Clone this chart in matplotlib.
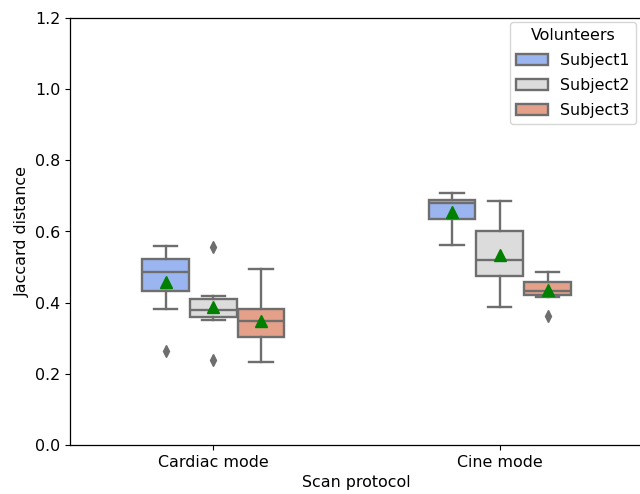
import colorsys
import matplotlib
matplotlib.use("Agg")
import matplotlib.pyplot as plt
import matplotlib.patches as mpatches
import seaborn as sns

# Box statistics (one value per protocol)
protocols = ["Cardiac mode", "Cine mode"]
subjects = ["Subject1", "Subject2", "Subject3"]

whislo = {"Subject1": [0.382, 0.563], "Subject2": [0.352, 0.387], "Subject3": [0.232, 0.417]}
q1 = {"Subject1": [0.432, 0.634], "Subject2": [0.361, 0.475], "Subject3": [0.304, 0.422]}
med = {"Subject1": [0.486, 0.679], "Subject2": [0.379, 0.520], "Subject3": [0.349, 0.434]}
q3 = {"Subject1": [0.524, 0.689], "Subject2": [0.410, 0.602], "Subject3": [0.383, 0.459]}
whishi = {"Subject1": [0.559, 0.709], "Subject2": [0.419, 0.685], "Subject3": [0.494, 0.486]}
means = {"Subject1": [0.459, 0.656], "Subject2": [0.387, 0.534], "Subject3": [0.349, 0.436]}
fliers = {"Subject1": [[0.265], []], "Subject2": [[0.556, 0.239], []], "Subject3": [[], [0.363]]}

plt.rcParams["font.size"] = 11.4
plt.rcParams["axes.linewidth"] = 0.9

# seaborn-like colours (coolwarm, saturation .75)
colors = [sns.desaturate(c, 0.75) for c in sns.color_palette("coolwarm", 3)]
lum = min(colorsys.rgb_to_hls(*c)[1] for c in colors) * 0.6
gray = (lum, lum, lum)
lw = 1.7

fig = plt.figure(figsize=(6.4, 4.94), dpi=100)
ax = fig.add_axes([70 / 640, 49 / 494, 573 / 640, 427 / 494])

width = 0.5
each = width / len(subjects)
offsets = [(i - 1) * each for i in range(len(subjects))]

for i, s in enumerate(subjects):
    stats = []
    for j in range(len(protocols)):
        stats.append(dict(whislo=whislo[s][j], q1=q1[s][j], med=med[s][j], q3=q3[s][j],
                          whishi=whishi[s][j], mean=means[s][j], fliers=fliers[s][j]))
    pos = [j + offsets[i] for j in range(len(protocols))]
    ax.bxp(stats, positions=pos, widths=each * 0.98, patch_artist=True, showmeans=True,
           boxprops=dict(facecolor=colors[i], edgecolor=gray, linewidth=lw),
           whiskerprops=dict(color=gray, linewidth=lw),
           capprops=dict(color=gray, linewidth=lw),
           medianprops=dict(color=gray, linewidth=lw),
           meanprops=dict(marker="^", markerfacecolor="green", markeredgecolor="green", markersize=8),
           flierprops=dict(marker="d", markerfacecolor=gray, markeredgecolor=gray, markersize=5.7,
                           linestyle="none"),
           manage_ticks=False)

ax.set_xlim(-0.5, 1.5)
ax.set_ylim(0, 1.2)
ax.set_xticks(range(len(protocols)))
ax.set_xticklabels(protocols)
ax.set_xlabel("Scan protocol")
ax.set_ylabel("Jaccard distance")

handles = [mpatches.Patch(facecolor=colors[i], edgecolor=gray, linewidth=lw, label=s)
           for i, s in enumerate(subjects)]
ax.legend(handles=handles, title="Volunteers", loc="upper right", labelspacing=0.62,
          bbox_to_anchor=((644 - 70) / 573, 1.0 + 4 / 427), bbox_transform=ax.transAxes)

fig.savefig("out.png", dpi=100)
